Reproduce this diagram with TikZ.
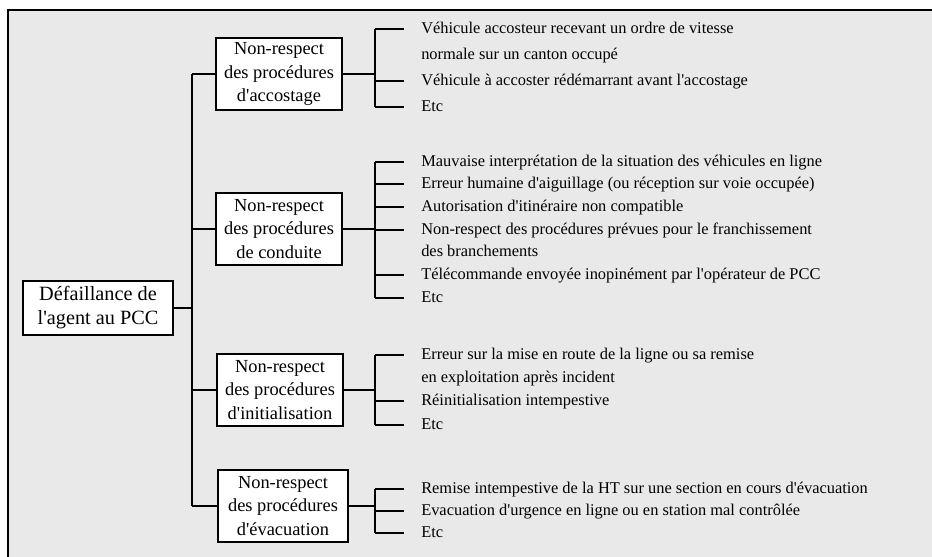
\documentclass[tikz,border=0pt]{standalone}
\usepackage{fontspec}
\setmainfont{Liberation Serif}[Ligatures=TeXOff]
\usepackage{tikz}

\tikzset{
  cause/.style={draw, fill=white, line width=1.4pt, align=center,
    minimum width=95pt, minimum height=54pt, inner xsep=4pt,
    font=\fontsize{13.8}{17.3}\selectfont},
  rootbox/.style={cause, minimum width=112.5pt, minimum height=40.5pt,
    font=\fontsize{15.2}{18}\selectfont},
  leaf/.style={anchor=west, inner sep=0pt, text height=9pt, text depth=3pt,
    font=\fontsize{12.3}{14}\selectfont},
  link/.style={line width=1.4pt},
}

\begin{document}
\begin{tikzpicture}[x=0.75pt, y=-0.75pt]
  \useasboundingbox (0,0) rectangle (932,557);
  \clip (0,0) rectangle (932,557);
  \fill[white] (0,0) rectangle (932,557);
  % frame
  \filldraw[fill=gray!17, line width=1.4pt] (8,10) rectangle (950,575);

  % root and causes
  \node[rootbox] (root) at (98,308) {Défaillance de\\l'agent au PCC};
  \node[cause] (acc)  at (279,74)  {Non-respect\\des procédures\\d'accostage};
  \node[cause] (cond) at (279,229) {Non-respect\\des procédures\\de conduite};
  \node[cause] (init) at (280,390) {Non-respect\\des procédures\\d'initialisation};
  \node[cause, minimum width=97pt] (evac) at (283,506) {Non-respect\\des procédures\\d'évacuation};

  % leaves
  \node[leaf] (a1) at (421,29)  {Véhicule accosteur recevant un ordre de vitesse};
  \node[leaf] (a2) at (421,55)  {normale sur un canton occupé};
  \node[leaf] (a3) at (421,81)  {Véhicule à accoster rédémarrant avant l'accostage};
  \node[leaf] (a4) at (421,107) {Etc};

  \node[leaf] (c1) at (421,162) {Mauvaise interprétation de la situation des véhicules en ligne};
  \node[leaf] (c2) at (421,184) {Erreur humaine d'aiguillage (ou réception sur voie occupée)};
  \node[leaf] (c3) at (421,207) {Autorisation d'itinéraire non compatible};
  \node[leaf] (c4) at (421,230) {Non-respect des procédures prévues pour le franchissement};
  \node[leaf] (c5) at (421,252) {des branchements};
  \node[leaf] (c6) at (421,275) {Télécommande envoyée inopinément par l'opérateur de PCC};
  \node[leaf] (c7) at (421,298) {Etc};

  \node[leaf] (i1) at (421,355) {Erreur sur la mise en route de la ligne ou sa remise};
  \node[leaf] (i2) at (421,378) {en exploitation après incident};
  \node[leaf] (i3) at (421,401) {Réinitialisation intempestive};
  \node[leaf] (i4) at (421,425) {Etc};

  \node[leaf] (e1) at (421,489) {Remise intempestive de la HT sur une section en cours d'évacuation};
  \node[leaf] (e2) at (421,511) {Evacuation d'urgence en ligne ou en station mal contrôlée};
  \node[leaf] (e3) at (421,533) {Etc};

  % spine
  \coordinate (spine) at (192,0);
  \draw[link] (root.east) -- (root.east -| spine);
  \draw[link] (acc.west -| spine) -- (evac.west -| spine);
  \foreach \c in {acc,cond,init,evac}
    \draw[link] (\c.west -| spine) -- (\c.west);

  % brackets
  \coordinate (brk) at (375,0);
  \foreach \c/\first/\last in {acc/a1/a4, cond/c1/c7, init/i1/i4, evac/e1/e3} {
    \draw[link] (\c.east) -- (\c.east -| brk);
    \draw[link] (\first.west -| brk) -- (\last.west -| brk);
  }
  \foreach \l in {a1,a3,a4,c1,c2,c3,c4,c6,c7,i1,i3,i4,e1,e2,e3}
    \draw[link] (\l.west -| brk) -- ([xshift=-12.5pt]\l.west);
\end{tikzpicture}
\end{document}
